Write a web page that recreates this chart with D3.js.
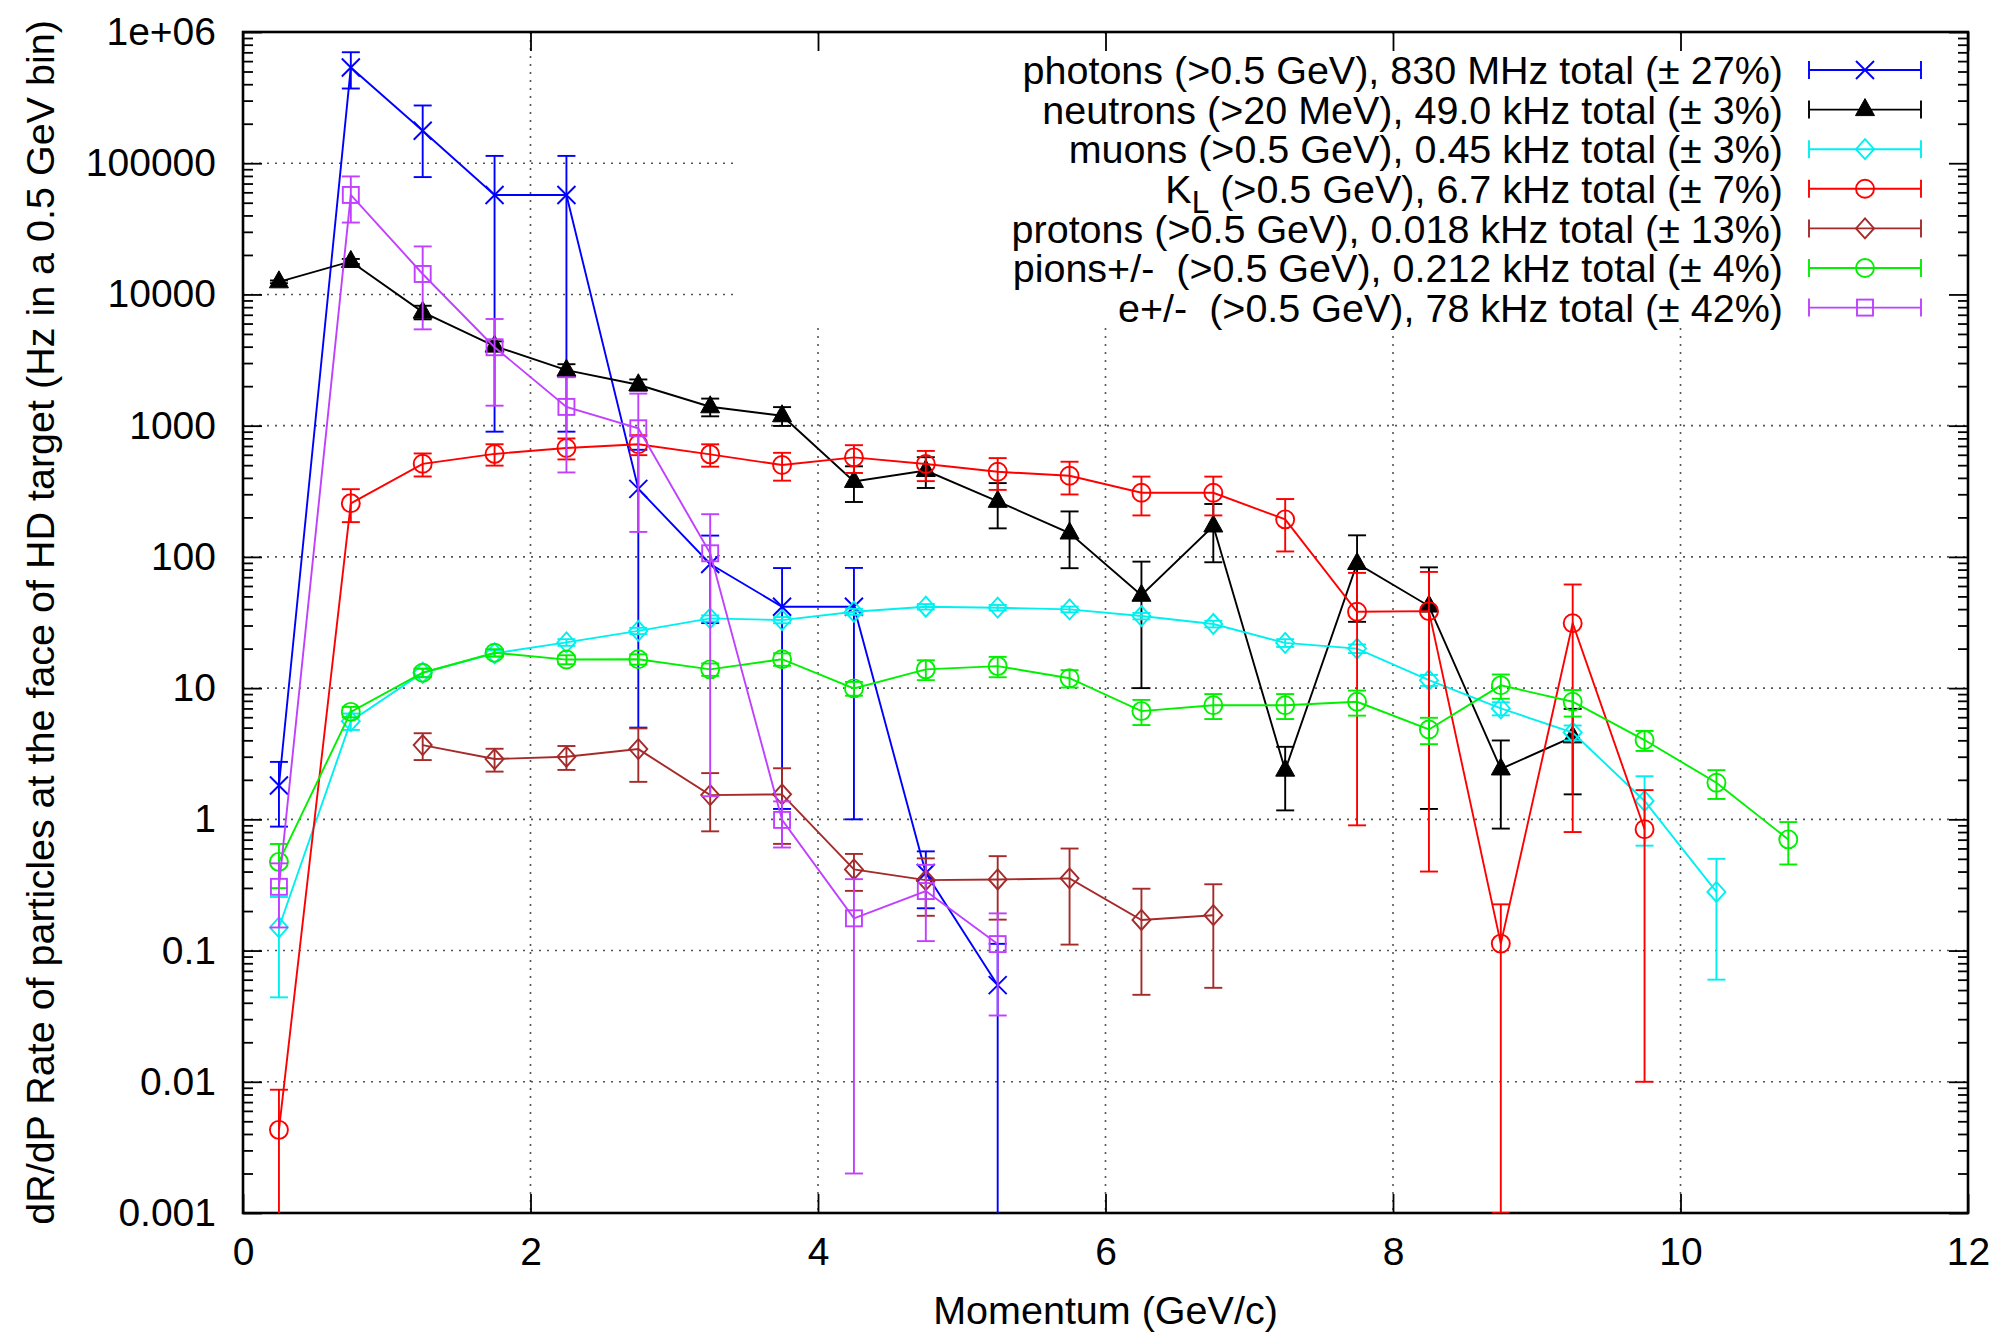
<!DOCTYPE html>
<html>
<head>
<meta charset="utf-8">
<script src="https://cdnjs.cloudflare.com/ajax/libs/d3/7.8.5/d3.min.js"></script>
<style>
  html, body { margin: 0; padding: 0; background: #fff; }
  svg { display: block; }
  text { font-family: "Liberation Sans", Arial, sans-serif; white-space: pre; }
</style>
</head>
<body>
<svg id="chart" width="2010" height="1333"></svg>
<script>
// ---------------- DATA ----------------
const xTickValues = [0, 2, 4, 6, 8, 10, 12];
const yTickValues = [0.001, 0.01, 0.1, 1, 10, 100, 1000, 10000, 100000, 1000000];
const yTickLabels = ["0.001", "0.01", "0.1", "1", "10", "100", "1000", "10000", "100000", "1e+06"];

const photonsX = [0.25, 0.75, 1.25, 1.75, 2.25, 2.75, 3.25, 3.75, 4.25, 4.75, 5.25];
const photonsY = [1.81, 536000, 176900, 57300, 57300, 330, 88.3, 41.7, 41.7, 0.39, 0.0545];
const photonsErr = [0.93, 165000, 98500, 56400, 56400, 325, 57, 40.5, 40.7, 0.18, 0.058];

const neutronsX = [0.25, 0.75, 1.25, 1.75, 2.25, 2.75, 3.25, 3.75, 4.25, 4.75, 5.25, 5.75, 6.25, 6.75, 7.25, 7.75, 8.25, 8.75, 9.25];
const neutronsY = [12480, 17850, 7330, 4040, 2650, 2050, 1393, 1190, 376, 455, 265, 152, 51, 172, 2.37, 89, 42.2, 2.42, 4.25];
const neutronsErr = [300, 800, 870, 350, 290, 200, 215, 195, 114, 120, 100, 70, 41, 81, 1.2, 57, 41, 1.57, 2.7];

const muonsX = [0.25, 0.75, 1.25, 1.75, 2.25, 2.75, 3.25, 3.75, 4.25, 4.75, 5.25, 5.75, 6.25, 6.75, 7.25, 7.75, 8.25, 8.75, 9.25, 9.75, 10.25];
const muonsY = [0.150, 5.6, 13.1, 18.4, 22.3, 27.3, 34.0, 33.0, 38.2, 41.7, 41.0, 39.8, 35.4, 30.8, 22.1, 20.0, 11.5, 7.0, 4.59, 1.38, 0.28];
const muonsErr = [0.106, 0.8, 0.9, 1.0, 1.3, 1.5, 1.8, 1.8, 2.0, 2.0, 2.0, 2.0, 2.0, 1.8, 1.5, 1.5, 1.1, 0.8, 0.6, 0.75, 0.22];

const kaonsX = [0.25, 0.75, 1.25, 1.75, 2.25, 2.75, 3.25, 3.75, 4.25, 4.75, 5.25, 5.75, 6.25, 6.75, 7.25, 7.75, 8.25, 8.75, 9.25, 9.75];
const kaonsY = [0.0043, 256, 512, 609, 676, 721, 604, 501, 573, 510, 445, 415, 308, 308, 193, 38.2, 38.6, 0.113, 31.2, 0.84];
const kaonsErr = [0.0044, 72, 102, 113, 123, 125, 117, 120, 137, 132, 121, 116, 101, 101, 83, 37.3, 38.2, 0.112, 30.4, 0.83];

const protonsX = [1.25, 1.75, 2.25, 2.75, 3.25, 3.75, 4.25, 4.75, 5.25, 5.75, 6.25, 6.75];
const protonsY = [3.68, 2.88, 3.00, 3.43, 1.53, 1.55, 0.415, 0.344, 0.348, 0.355, 0.171, 0.186];
const protonsErr = [0.85, 0.57, 0.62, 1.5, 0.72, 0.9, 0.13, 0.16, 0.176, 0.244, 0.125, 0.134];

const pionsX = [0.25, 0.75, 1.25, 1.75, 2.25, 2.75, 3.25, 3.75, 4.25, 4.75, 5.25, 5.75, 6.25, 6.75, 7.25, 7.75, 8.25, 8.75, 9.25, 9.75, 10.25, 10.75];
const pionsY = [0.474, 6.59, 13.1, 18.6, 16.5, 16.6, 13.9, 16.6, 9.95, 13.9, 14.7, 11.9, 6.68, 7.41, 7.41, 7.87, 4.84, 10.5, 7.87, 4.02, 1.90, 0.703];
const pionsErr = [0.175, 0.6, 1.0, 1.2, 1.3, 1.5, 1.5, 1.8, 1.2, 2.4, 2.6, 1.8, 1.45, 1.6, 1.6, 1.7, 1.1, 2.2, 1.8, 0.7, 0.47, 0.25];

const electronsX = [0.25, 0.75, 1.25, 1.75, 2.25, 2.75, 3.25, 3.75, 4.25, 4.75, 5.25];
const electronsY = [0.306, 57300, 14320, 3960, 1390, 955, 106.5, 0.99, 0.176, 0.284, 0.112];
const electronsErr = [0.156, 22000, 8900, 2540, 950, 800, 105, 0.38, 0.174, 0.166, 0.08];

const seriesNames = [
  ["photons (>0.5 GeV), 830 MHz total (± 27%)"],
  ["neutrons (>20 MeV), 49.0 kHz total (± 3%)"],
  ["muons (>0.5 GeV), 0.45 kHz total (± 3%)"],
  ["K", "L", " (>0.5 GeV), 6.7 kHz total (± 7%)"],
  ["protons (>0.5 GeV), 0.018 kHz total (± 13%)"],
  ["pions+/-  (>0.5 GeV), 0.212 kHz total (± 4%)"],
  ["e+/-  (>0.5 GeV), 78 kHz total (± 42%)"]
];
const seriesColors = ["#0000ff", "#000000", "#00f0f0", "#ff0000", "#a52a2a", "#00f000", "#c040ff"];
const seriesMarkers = ["cross", "triangle", "diamond", "circle", "diamond", "circle", "square"];

const xTitle = "Momentum (GeV/c)";
const yTitle = "dR/dP Rate of particles at the face of HD target (Hz in a 0.5 GeV bin)";

// ---------------- LAYOUT ----------------
const L = 243, R = 1968, T = 32, B = 1213;
const FONT = 39.5;
const TICKFONT = 39;
const svg = d3.select("#chart");
const x = d3.scaleLinear().domain([0, 12]).range([L, R]);
const y = d3.scaleLog().domain([0.001, 1e6]).range([B, T]);

svg.append("rect").attr("width", 2010).attr("height", 1333).attr("fill", "#fff");

const defs = svg.append("defs");
defs.append("clipPath").attr("id", "plotclip")
  .append("rect").attr("x", L).attr("y", T).attr("width", R - L).attr("height", B - T);

// grid
const grid = svg.append("g").attr("stroke", "#555").attr("stroke-width", 1.6)
  .attr("stroke-dasharray", "2,6").attr("fill", "none");
yTickValues.filter(v => v > 0.001 && v < 1e6).forEach(v => {
  grid.append("line").attr("x1", L).attr("x2", R).attr("y1", y(v)).attr("y2", y(v));
});
xTickValues.filter(v => v > 0 && v < 12).forEach(v => {
  grid.append("line").attr("x1", x(v)).attr("x2", x(v)).attr("y1", T).attr("y2", B);
});

// opaque key box
const keyBox = {x0: 737, y0: T + 2, x1: R - 1, y1: 328};
svg.append("rect").attr("x", keyBox.x0).attr("y", keyBox.y0)
  .attr("width", keyBox.x1 - keyBox.x0).attr("height", keyBox.y1 - keyBox.y0).attr("fill", "#fff");

// axes
const minorVals = [];
for (let e = -3; e < 6; e++) for (let m = 2; m <= 9; m++) minorVals.push(m * Math.pow(10, e));

function styleAxis(g) {
  g.select(".domain").remove();
  g.selectAll("line").attr("stroke", "#000").attr("stroke-width", 1.8);
  g.selectAll("text").attr("font-size", TICKFONT).attr("fill", "#000")
    .attr("font-family", '"Liberation Sans", Arial, sans-serif');
}
const fmtY = v => yTickLabels[yTickValues.findIndex(t => Math.abs(Math.log10(t) - Math.log10(v)) < 1e-6)];

svg.append("g").attr("transform", `translate(${L},0)`)
  .call(d3.axisLeft(y).tickValues(yTickValues).tickFormat(fmtY).tickSize(-19).tickPadding(27))
  .call(styleAxis);
svg.append("g").attr("transform", `translate(${L},0)`)
  .call(d3.axisLeft(y).tickValues(minorVals).tickFormat("").tickSize(-10))
  .call(styleAxis);
svg.append("g").attr("transform", `translate(${R},0)`)
  .call(d3.axisRight(y).tickValues(yTickValues).tickFormat("").tickSize(-19))
  .call(styleAxis);
svg.append("g").attr("transform", `translate(${R},0)`)
  .call(d3.axisRight(y).tickValues(minorVals).tickFormat("").tickSize(-10))
  .call(styleAxis);
svg.append("g").attr("transform", `translate(0,${B})`)
  .call(d3.axisBottom(x).tickValues(xTickValues).tickFormat(d3.format("d")).tickSize(-19).tickPadding(24))
  .call(styleAxis);
svg.append("g").attr("transform", `translate(0,${T})`)
  .call(d3.axisTop(x).tickValues(xTickValues).tickFormat("").tickSize(-19))
  .call(styleAxis);

// border
svg.append("rect").attr("x", L).attr("y", T).attr("width", R - L).attr("height", B - T)
  .attr("fill", "none").attr("stroke", "#000").attr("stroke-width", 2.6);

// markers
const MS = 9;
function drawMarker(g, type, cx, cy, color) {
  if (type === "cross") {
    g.append("path").attr("d", `M${cx-MS},${cy-MS}L${cx+MS},${cy+MS}M${cx-MS},${cy+MS}L${cx+MS},${cy-MS}`)
      .attr("stroke", color).attr("stroke-width", 1.9).attr("fill", "none");
  } else if (type === "triangle") {
    g.append("path").attr("d", `M${cx},${cy-11}L${cx+9.5},${cy+6}L${cx-9.5},${cy+6}Z`)
      .attr("fill", color).attr("stroke", color).attr("stroke-width", 1);
  } else if (type === "diamond") {
    g.append("path").attr("d", `M${cx},${cy-MS-1}L${cx+MS},${cy}L${cx},${cy+MS+1}L${cx-MS},${cy}Z`)
      .attr("fill", "none").attr("stroke", color).attr("stroke-width", 1.9);
  } else if (type === "circle") {
    g.append("circle").attr("cx", cx).attr("cy", cy).attr("r", MS)
      .attr("fill", "none").attr("stroke", color).attr("stroke-width", 1.9);
  } else if (type === "square") {
    g.append("rect").attr("x", cx - 8).attr("y", cy - 8).attr("width", 16).attr("height", 16)
      .attr("fill", "none").attr("stroke", color).attr("stroke-width", 1.9);
  }
}

const allSeries = [
  [photonsX, photonsY, photonsErr],
  [neutronsX, neutronsY, neutronsErr],
  [muonsX, muonsY, muonsErr],
  [kaonsX, kaonsY, kaonsErr],
  [protonsX, protonsY, protonsErr],
  [pionsX, pionsY, pionsErr],
  [electronsX, electronsY, electronsErr]
];

const plotG = svg.append("g").attr("clip-path", "url(#plotclip)");
const line = d3.line().x(d => x(d[0])).y(d => y(d[1]));
const CAP = 9;
const LW = 1.9;

allSeries.forEach((s, i) => {
  const [xs, ys, es] = s;
  const color = seriesColors[i];
  const g = plotG.append("g");
  const pts = xs.map((xv, k) => [xv, ys[k], es[k]]);
  pts.forEach(([xv, yv, ev]) => {
    const cx = x(xv);
    const hi = yv + ev, lo = yv - ev;
    const yHi = y(hi);
    const yLo = lo > 0 ? y(lo) : B + 50;
    g.append("line").attr("x1", cx).attr("x2", cx).attr("y1", yHi).attr("y2", yLo)
      .attr("stroke", color).attr("stroke-width", LW);
    g.append("line").attr("x1", cx - CAP).attr("x2", cx + CAP).attr("y1", yHi).attr("y2", yHi)
      .attr("stroke", color).attr("stroke-width", LW);
    if (lo > 0) g.append("line").attr("x1", cx - CAP).attr("x2", cx + CAP).attr("y1", yLo).attr("y2", yLo)
      .attr("stroke", color).attr("stroke-width", LW);
  });
  g.append("path").attr("d", line(pts)).attr("fill", "none").attr("stroke", color).attr("stroke-width", LW);
  pts.forEach(([xv, yv]) => drawMarker(g, seriesMarkers[i], x(xv), y(yv), color));
});

// legend
const keyTextX = 1783, keyS0 = 1809, keyS1 = 1921, keyM = 1865;
const keyY0 = 70, keyDY = 39.6;
seriesNames.forEach((parts, i) => {
  const cy = keyY0 + i * keyDY;
  const color = seriesColors[i];
  const t = svg.append("text").attr("x", keyTextX).attr("y", cy).attr("dy", "0.36em")
    .attr("text-anchor", "end").attr("font-size", FONT).attr("fill", "#000");
  if (parts.length === 1) {
    t.text(parts[0]);
  } else {
    t.append("tspan").text(parts[0]);
    t.append("tspan").attr("font-size", FONT * 0.8).attr("dy", 10).text(parts[1]);
    t.append("tspan").attr("dy", -10).text(parts[2]);
  }
  const g = svg.append("g");
  g.append("line").attr("x1", keyS0).attr("x2", keyS1).attr("y1", cy).attr("y2", cy)
    .attr("stroke", color).attr("stroke-width", LW);
  [keyS0, keyS1].forEach(xx => g.append("line").attr("x1", xx).attr("x2", xx)
    .attr("y1", cy - CAP).attr("y2", cy + CAP).attr("stroke", color).attr("stroke-width", LW));
  drawMarker(g, seriesMarkers[i], keyM, cy, color);
});

// axis titles
svg.append("text").attr("x", (L + R) / 2).attr("y", 1324).attr("text-anchor", "middle")
  .attr("font-size", FONT).attr("fill", "#000").text(xTitle);
svg.append("text").attr("transform", `translate(54,${(T + B) / 2}) rotate(-90)`)
  .attr("text-anchor", "middle").attr("font-size", FONT).attr("fill", "#000").text(yTitle);
</script>
</body>
</html>
